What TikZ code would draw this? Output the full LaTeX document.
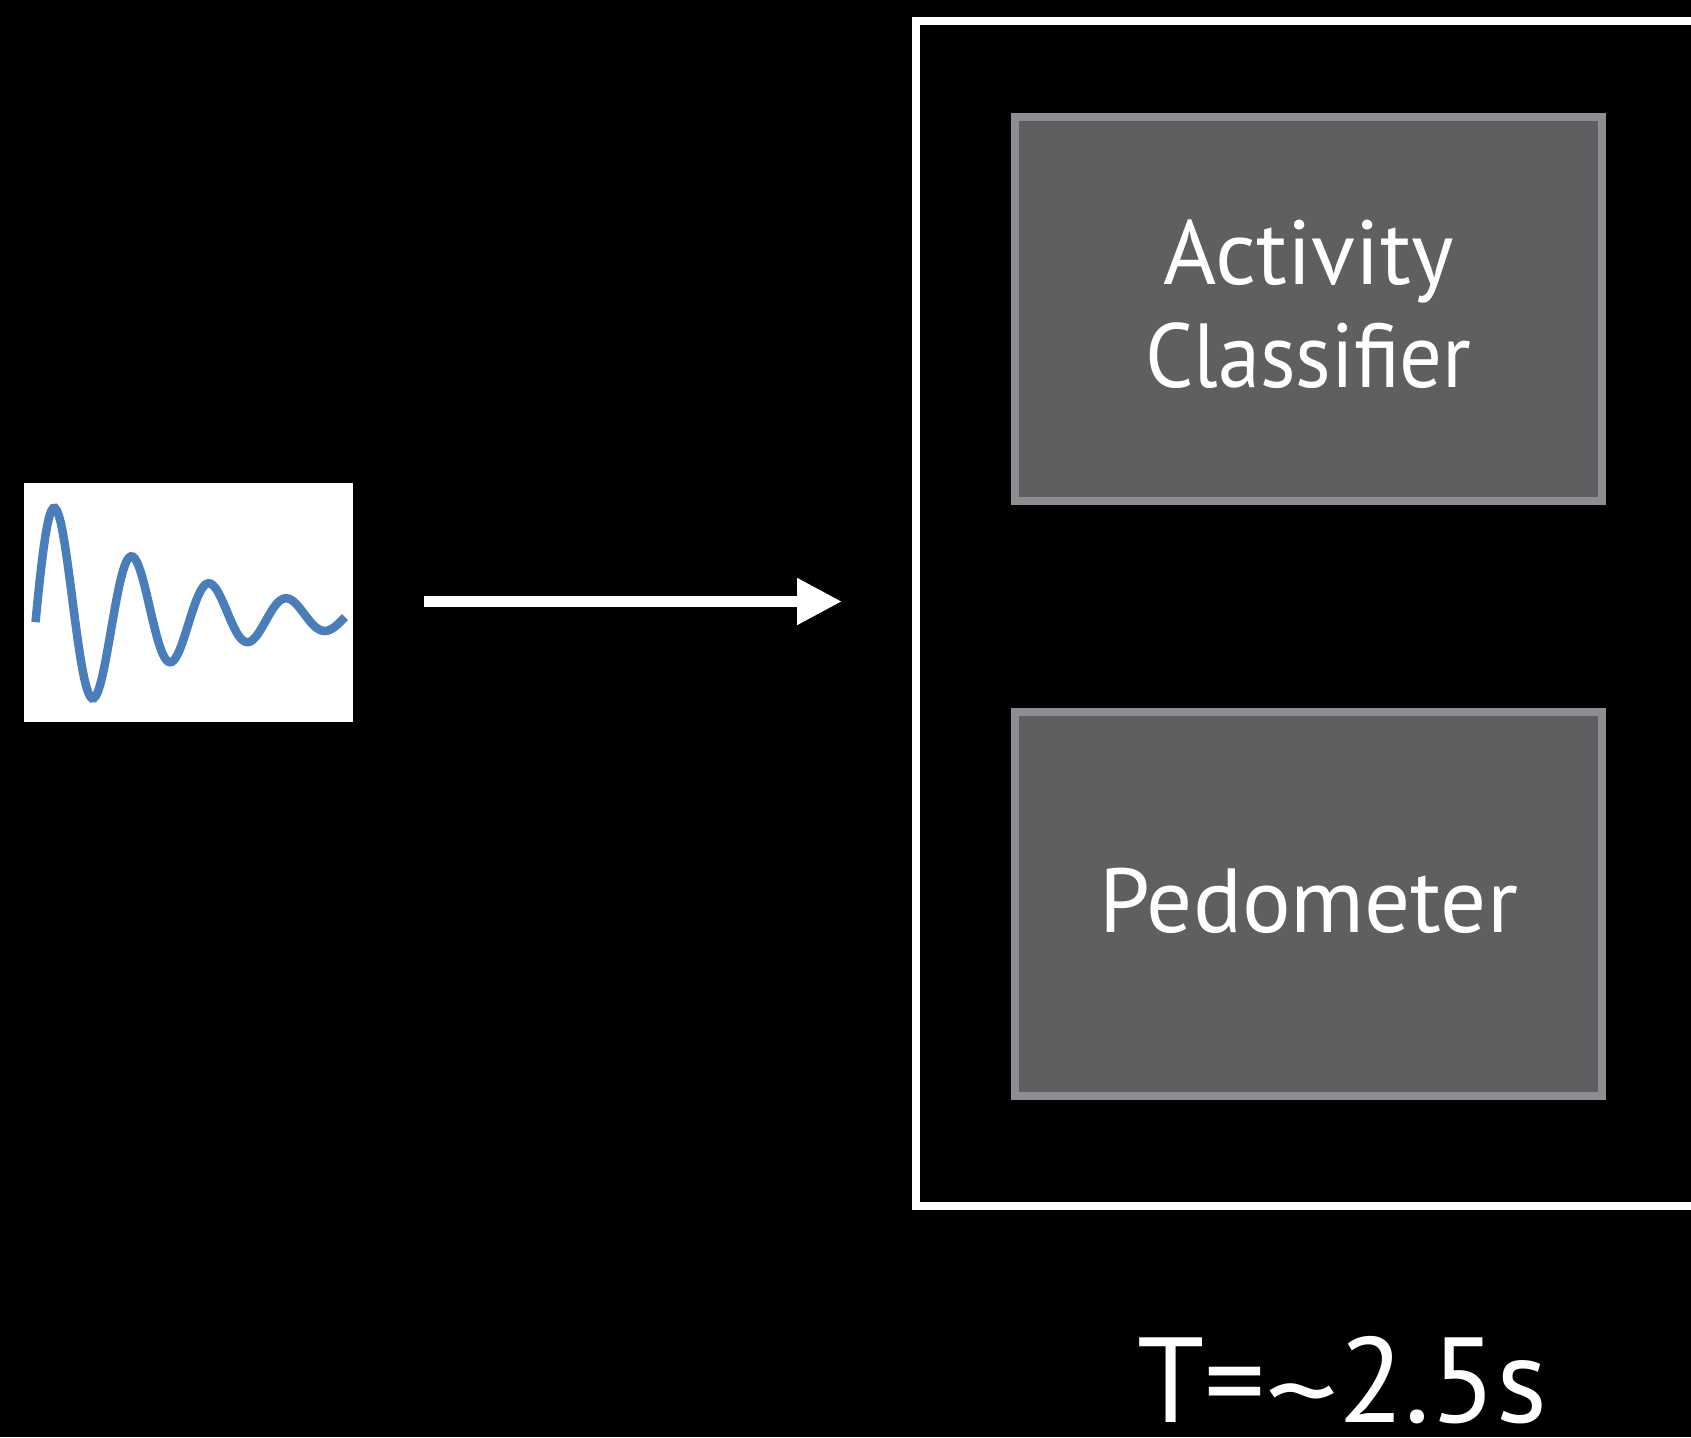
\documentclass[tikz,border=0pt]{standalone}
\usepackage{fontspec}
\usepackage{graphicx}
\setmainfont{PT Sans}
\usetikzlibrary{arrows.meta}
\definecolor{boxedge}{RGB}{142,141,146}
\definecolor{boxfill}{RGB}{95,95,97}
\definecolor{wave}{RGB}{74,126,187}
\tikzset{
  procbox/.style={draw=boxedge, line width=8pt, fill=boxfill, minimum width=587pt, minimum height=384pt, inner sep=0pt},
  boxtext/.style={text=white, align=center, inner sep=0pt, font=\fontsize{91}{103}\selectfont},
  flowarrow/.style={draw=white, line width=11pt, -{Triangle[length=45pt, width=44pt]}},
  frameline/.style={draw=white, line width=8pt},
}
\begin{document}
\begin{tikzpicture}[x=1pt, y=-1pt]
\useasboundingbox (0,0) rectangle (1691,1437);
\fill[black] (0,0) rectangle (1691,1437);
\clip (0,0) rectangle (1691,1437);
% signal icon
\node[fill=white, inner sep=0pt, minimum width=329pt, minimum height=239pt] (sig) at (188.5,602.5) {};
\draw[wave, line width=8.5pt] plot[domain=35.5:345, samples=160, variable=\t] (\t, {617 - 109*exp(-0.0076*(\t-55))*sin(4.657*(\t-36))});
% arrow
\coordinate (a1) at (424,601.5);
\coordinate (a2) at (842,601.5);
\draw[flowarrow] (a1) -- (a2);
% frame
\coordinate (f1) at (1720,21.3);
\coordinate (f2) at (916,21.3);
\coordinate (f3) at (916,1205.5);
\coordinate (f4) at (1720,1205.5);
\draw[frameline] (f1) -- (f2) -- (f3) -- (f4);
% boxes
\node[procbox] (act) at (1308.5,309) {};
\node[procbox] (ped) at (1308.5,904) {};
\node[boxtext, yshift=5pt] (actlabel) at (act.center) {Activity\\\scalebox{0.93}[1]{Classifier}};
\node[boxtext, yshift=3pt] (pedlabel) at (ped.center) {Pedometer};
% time label
\node[anchor=base, text=white, inner sep=0pt, font=\fontsize{121}{140}\selectfont] (tlabel) at (1342.5,1422.7) {T=\raisebox{-0.1em}{\scalebox{1.2}[1]{\char"007E}}2.5s};
\end{tikzpicture}
\end{document}
